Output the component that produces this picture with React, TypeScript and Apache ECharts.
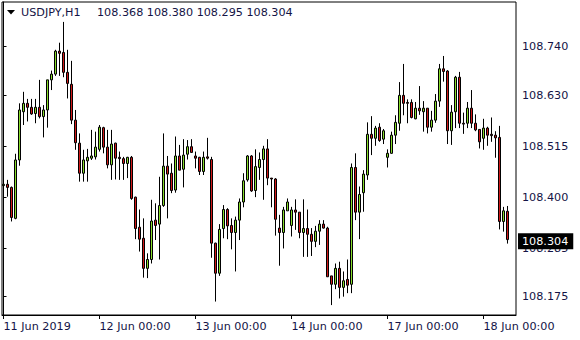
import React, { useEffect, useRef } from "react";
import * as echarts from "echarts";

const symbolName = "USDJPY,H1";
const tickIndexX = [0, 24, 48, 72, 96, 120];
const tickLabelsX = ["11 Jun 2019", "12 Jun 00:00", "13 Jun 00:00", "14 Jun 00:00", "17 Jun 00:00", "18 Jun 00:00"];
const tickValuesY = [108.175, 108.285, 108.4, 108.515, 108.63, 108.74];

const open = [
  108.426, 108.429, 108.422, 108.352, 108.484, 108.593, 108.612, 108.603, 108.589, 108.603,
  108.582, 108.597, 108.665, 108.678, 108.73, 108.727, 108.682, 108.655, 108.574, 108.522,
  108.454, 108.482, 108.488, 108.491, 108.508, 108.557, 108.513, 108.473, 108.522, 108.49,
  108.487, 108.476, 108.49, 108.4, 108.332, 108.307, 108.239, 108.259, 108.348, 108.339,
  108.381, 108.47, 108.454, 108.416, 108.493, 108.463, 108.497, 108.514, 108.493, 108.49,
  108.458, 108.491, 108.485, 108.296, 108.228, 108.329, 108.372, 108.336, 108.32, 108.348,
  108.389, 108.439, 108.493, 108.415, 108.467, 108.485, 108.509, 108.443, 108.441, 108.33,
  108.32, 108.369, 108.336, 108.371, 108.366, 108.32, 108.329, 108.316, 108.3, 108.323,
  108.339, 108.33, 108.222, 108.203, 108.239, 108.196, 108.214, 108.203, 108.467, 108.366,
  108.41, 108.45, 108.542, 108.533, 108.558, 108.531, 108.49, 108.499, 108.54, 108.567,
  108.63, 108.614, 108.614, 108.577, 108.601, 108.593, 108.601, 108.558, 108.574, 108.617,
  108.69, 108.685, 108.55, 108.593, 108.671, 108.567, 108.567, 108.601, 108.567, 108.553,
  108.533, 108.556, 108.542, 108.54, 108.535, 108.345, 108.368,
];
const high = [
  108.45, 108.439, 108.424, 108.498, 108.612, 108.638, 108.622, 108.622, 108.622, 108.665,
  108.608, 108.665, 108.686, 108.733, 108.749, 108.796, 108.733, 108.708, 108.597, 108.544,
  108.507, 108.509, 108.552, 108.548, 108.563, 108.559, 108.552, 108.552, 108.523, 108.503,
  108.491, 108.491, 108.493, 108.401, 108.372, 108.352, 108.273, 108.394, 108.386, 108.446,
  108.544, 108.493, 108.476, 108.537, 108.518, 108.531, 108.529, 108.531, 108.503, 108.491,
  108.503, 108.534, 108.491, 108.297, 108.339, 108.382, 108.375, 108.352, 108.356, 108.397,
  108.454, 108.495, 108.495, 108.508, 108.501, 108.516, 108.531, 108.443, 108.443, 108.36,
  108.378, 108.397, 108.378, 108.395, 108.366, 108.395, 108.372, 108.33, 108.335, 108.348,
  108.348, 108.333, 108.222, 108.25, 108.254, 108.232, 108.259, 108.476, 108.499, 108.424,
  108.461, 108.569, 108.583, 108.561, 108.567, 108.554, 108.508, 108.548, 108.585, 108.66,
  108.701, 108.621, 108.621, 108.615, 108.651, 108.617, 108.601, 108.595, 108.633, 108.701,
  108.719, 108.687, 108.608, 108.674, 108.683, 108.591, 108.615, 108.642, 108.587, 108.553,
  108.577, 108.559, 108.58, 108.549, 108.561, 108.378, 108.38,
];
const low = [
  108.394, 108.401, 108.345, 108.35, 108.471, 108.563, 108.571, 108.586, 108.567, 108.578,
  108.535, 108.557, 108.642, 108.674, 108.674, 108.671, 108.623, 108.565, 108.507, 108.435,
  108.435, 108.435, 108.484, 108.485, 108.503, 108.499, 108.465, 108.439, 108.44, 108.439,
  108.439, 108.443, 108.394, 108.305, 108.277, 108.218, 108.217, 108.25, 108.303, 108.259,
  108.378, 108.352, 108.409, 108.41, 108.461, 108.422, 108.485, 108.501, 108.465, 108.45,
  108.45, 108.485, 108.263, 108.164, 108.222, 108.307, 108.305, 108.282, 108.232, 108.303,
  108.377, 108.435, 108.412, 108.4, 108.439, 108.394, 108.427, 108.377, 108.313, 108.245,
  108.284, 108.369, 108.311, 108.326, 108.307, 108.265, 108.265, 108.267, 108.287, 108.292,
  108.329, 108.22, 108.156, 108.192, 108.171, 108.175, 108.183, 108.183, 108.348, 108.305,
  108.367, 108.439, 108.495, 108.516, 108.525, 108.52, 108.467, 108.498, 108.52, 108.55,
  108.585, 108.567, 108.578, 108.576, 108.586, 108.548, 108.544, 108.548, 108.568, 108.604,
  108.661, 108.52, 108.518, 108.556, 108.556, 108.543, 108.556, 108.556, 108.549, 108.51,
  108.507, 108.516, 108.525, 108.489, 108.327, 108.322, 108.295,
];
const close = [
  108.429, 108.422, 108.354, 108.484, 108.597, 108.612, 108.603, 108.588, 108.603, 108.582,
  108.597, 108.665, 108.678, 108.73, 108.725, 108.682, 108.657, 108.574, 108.523, 108.454,
  108.484, 108.49, 108.493, 108.513, 108.558, 108.513, 108.473, 108.52, 108.488, 108.487,
  108.476, 108.49, 108.397, 108.329, 108.305, 108.239, 108.259, 108.346, 108.336, 108.381,
  108.47, 108.452, 108.415, 108.493, 108.461, 108.495, 108.514, 108.501, 108.488, 108.458,
  108.49, 108.488, 108.296, 108.228, 108.327, 108.372, 108.335, 108.32, 108.348, 108.389,
  108.437, 108.493, 108.414, 108.469, 108.485, 108.509, 108.443, 108.441, 108.35, 108.32,
  108.371, 108.389, 108.371, 108.366, 108.32, 108.329, 108.316, 108.3, 108.323, 108.339,
  108.33, 108.22, 108.203, 108.239, 108.196, 108.211, 108.201, 108.467, 108.366, 108.406,
  108.452, 108.542, 108.533, 108.556, 108.528, 108.55, 108.499, 108.54, 108.569, 108.63,
  108.612, 108.612, 108.58, 108.601, 108.595, 108.601, 108.558, 108.574, 108.617, 108.69,
  108.684, 108.55, 108.592, 108.671, 108.567, 108.565, 108.601, 108.567, 108.552, 108.525,
  108.556, 108.54, 108.539, 108.534, 108.345, 108.369, 108.304,
];

export default function App() {
  const ref = useRef<HTMLDivElement>(null);
  useEffect(() => {
    const chart = echarts.init(ref.current as HTMLDivElement, null, { renderer: "svg" });
    const n = close.length;
    const data = close.map((c, i) => [i, open[i], c, low[i], high[i]]);
    const font = "DejaVu Sans";
    const txt = "#141446";
    const fs = 11.2;
    chart.setOption({
      animation: false,
      backgroundColor: "#fff",
      title: [
        {
          text: symbolName,
          left: 21,
          top: 6,
          padding: 0,
          textStyle: { fontFamily: font, fontSize: fs, fontWeight: "normal", color: txt, lineHeight: 13 },
        },
        {
          text: [open[n - 1], high[n - 1], low[n - 1], close[n - 1]].map((v) => v.toFixed(3)).join(" "),
          left: 97,
          top: 6,
          padding: 0,
          textStyle: { fontFamily: font, fontSize: fs, fontWeight: "normal", color: txt, lineHeight: 13 },
        },
      ],
      graphic: [
        {
          type: "polygon",
          shape: { points: [[7, 10], [15, 10], [11, 14.5]] },
          style: { fill: "#000" },
        },
      ],
      grid: {
        left: 2,
        top: 2,
        width: 514,
        height: 313,
        show: true,
        borderColor: "#000",
        borderWidth: 1,
        backgroundColor: "#fff",
      },
      xAxis: {
        type: "value",
        min: -0.375,
        max: 128.125,
        splitLine: { show: false },
        axisLine: { show: true, lineStyle: { color: "#000", width: 1 } },
        axisTick: { show: true, customValues: tickIndexX, length: 4, lineStyle: { color: "#000" } },
        axisLabel: {
          customValues: tickIndexX,
          formatter: (v: number) => tickLabelsX[tickIndexX.indexOf(v)] ?? "",
          align: "left",
          margin: 5,
          fontFamily: font,
          fontSize: fs,
          color: txt,
          lineHeight: 13,
        },
      },
      yAxis: {
        type: "value",
        position: "right",
        min: 108.1336,
        max: 108.841,
        splitLine: { show: false },
        axisLine: { show: true, lineStyle: { color: "#000", width: 1 } },
        axisTick: { show: true, customValues: tickValuesY, length: 3, lineStyle: { color: "#000" } },
        axisLabel: {
          customValues: tickValuesY,
          formatter: (v: number) => v.toFixed(3),
          margin: 6,
          fontFamily: font,
          fontSize: fs,
          color: txt,
        },
      },
      series: [
        {
          type: "candlestick",
          data,
          barWidth: 2,
          clip: false,
          silent: true,
          itemStyle: {
            color: "#86dc2a",
            color0: "#d01818",
            borderColor: "#000",
            borderColor0: "#000",
            borderColorDoji: "#000",
            borderWidth: 1,
          },
          markLine: {
            silent: true,
            symbol: ["none", "none"],
            lineStyle: { color: "rgba(0,0,0,0)", width: 0 },
            label: {
              show: true,
              position: "end",
              distance: 2,
              formatter: () => close[n - 1].toFixed(3),
              backgroundColor: "#000",
              color: "#fff",
              padding: [2, 5, 2, 4],
              fontFamily: font,
              fontSize: fs,
              lineHeight: 12,
            },
            data: [{ yAxis: close[n - 1] }],
          },
        },
      ],
    });
    return () => chart.dispose();
  }, []);
  return <div ref={ref} style={{ position: "fixed", left: 0, top: 0, width: 580, height: 340 }} />;
}
